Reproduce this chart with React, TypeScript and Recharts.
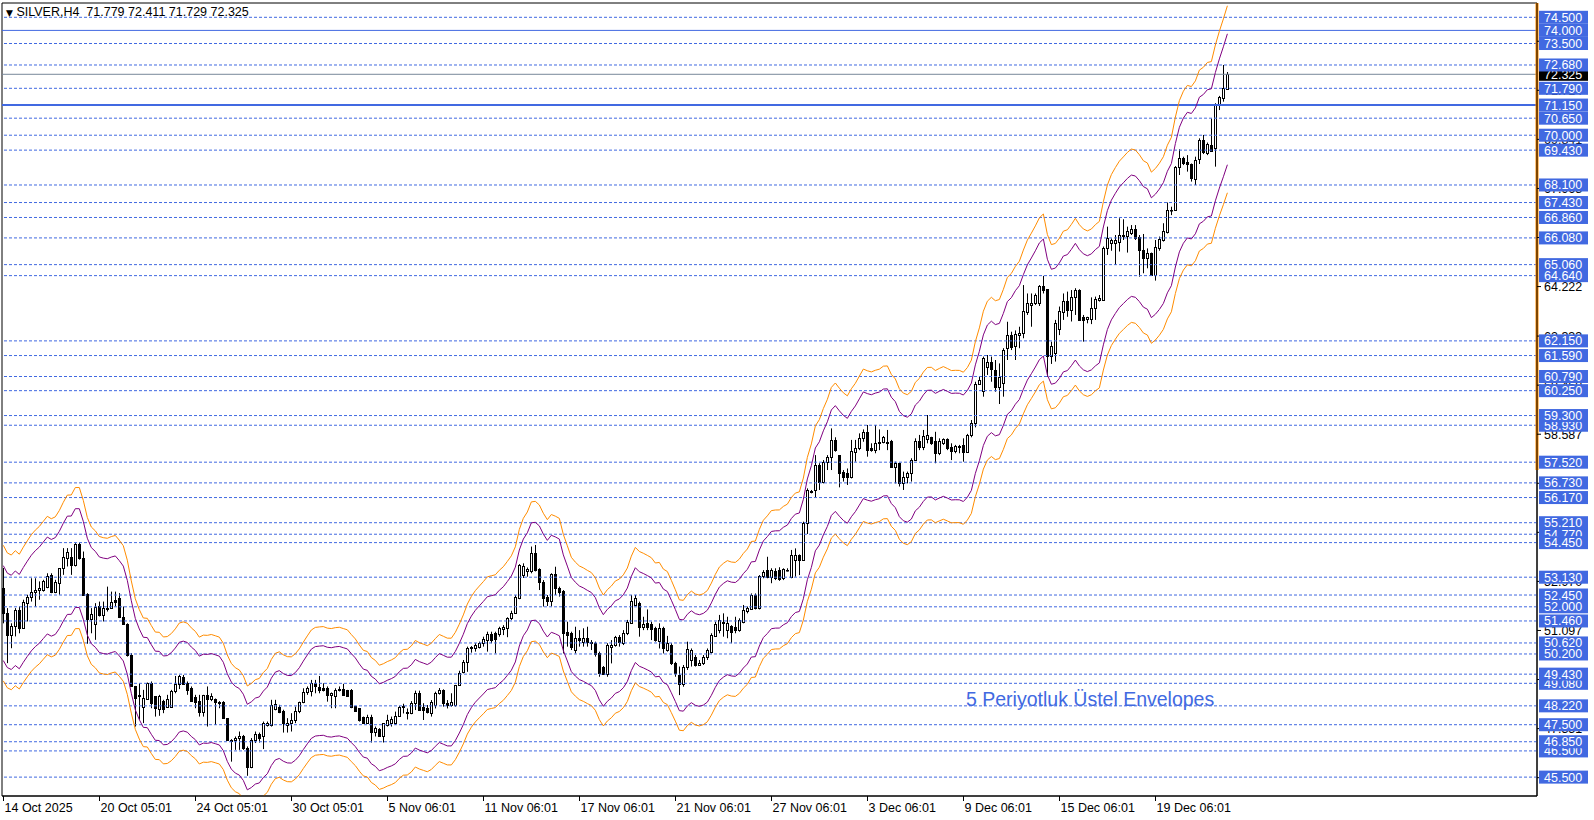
import React from "react"
import { ComposedChart, Bar, Line, XAxis, YAxis, ReferenceLine, ReferenceArea } from "recharts"

// SILVER H4 candles, bar 0 = 14 Oct 2025
const opens = [
  52.71, 51.76, 50.93, 51.25, 51.86, 51.18, 52.14, 52.37, 52.58, 52.65,
  52.65, 52.77, 53.22, 52.55, 52.90, 53.48, 53.86, 53.92, 53.60, 54.40,
  53.86, 52.49, 51.53, 51.35, 52.04, 51.67, 51.92, 51.95, 52.27, 52.33,
  51.60, 51.34, 50.17, 48.96, 48.58, 48.19, 48.47, 49.08, 48.58, 48.09,
  48.42, 48.19, 48.19, 48.77, 49.06, 49.34, 49.08, 48.89, 48.55, 48.42,
  48.00, 48.64, 48.47, 48.47, 48.38, 48.35, 47.75, 46.92, 46.92, 46.99,
  47.07, 46.60, 45.90, 46.92, 47.15, 47.05, 47.49, 47.49, 48.09, 48.19,
  48.04, 47.49, 47.58, 47.69, 48.04, 48.35, 48.73, 48.77, 49.11, 48.94,
  48.92, 48.89, 48.63, 48.58, 48.86, 48.86, 48.83, 48.83, 48.22, 48.13,
  47.81, 47.58, 47.81, 47.24, 47.33, 47.05, 47.49, 47.56, 47.56, 47.84,
  48.19, 47.93, 47.93, 48.34, 48.70, 48.19, 48.12, 47.93, 48.25, 48.70,
  48.82, 48.34, 48.25, 48.25, 49.02, 49.52, 49.90, 50.41, 50.41, 50.48,
  50.61, 50.73, 50.96, 50.99, 50.96, 51.14, 51.18, 51.56, 51.78, 52.32,
  53.20, 53.35, 53.35, 54.07, 53.43, 52.96, 52.36, 52.23, 53.25, 52.70,
  52.60, 51.05, 50.99, 50.35, 50.80, 50.67, 50.80, 50.67, 50.61, 50.22,
  49.69, 49.44, 50.48, 50.54, 50.83, 50.63, 50.99, 51.40, 52.07, 52.13,
  51.24, 51.37, 51.34, 51.18, 50.71, 51.20, 50.35, 50.54, 49.87, 49.40,
  49.05, 49.72, 49.97, 50.10, 49.78, 49.84, 50.10, 50.29, 50.88, 51.11,
  51.43, 51.11, 51.27, 51.24, 51.11, 51.43, 51.85, 51.90, 52.45, 51.94,
  53.18, 53.40, 53.15, 53.38, 53.40, 53.09, 53.40, 53.13, 53.79, 53.98,
  53.79, 55.19, 56.40, 56.46, 57.41, 56.78, 57.54, 57.73, 58.37, 57.79,
  57.16, 57.12, 56.97, 57.92, 58.05, 58.43, 58.68, 58.05, 57.98, 58.30,
  58.30, 58.24, 58.34, 57.35, 57.48, 56.74, 56.97, 57.12, 57.60, 58.34,
  58.11, 58.39, 58.47, 58.34, 57.88, 58.26, 58.39, 58.11, 57.96, 58.14,
  58.18, 57.92, 58.56, 59.03, 60.51, 60.25, 61.14, 61.36, 61.04, 60.40,
  60.53, 61.87, 62.37, 61.95, 62.36, 62.44, 63.27, 63.52, 63.61, 63.58,
  64.24, 64.12, 61.57, 61.70, 62.59, 63.27, 63.69, 63.33, 63.81, 64.09,
  63.05, 62.97, 62.97, 63.39, 63.71, 63.71, 65.68, 65.90, 65.87, 65.94,
  66.15, 66.15, 66.25, 66.41, 66.13, 65.62, 65.30, 65.49, 64.66, 65.68,
  66.00, 66.32, 67.14, 67.14, 68.80, 69.12, 68.99, 68.90, 68.32, 69.08,
  69.82, 69.31, 69.63, 69.50, 71.15, 71.42, 71.779,
]
const highs = [
  53.48, 51.95, 51.37, 51.95, 52.01, 52.27, 52.46, 53.09, 53.09, 52.97,
  53.03, 53.28, 53.28, 53.03, 53.48, 54.24, 54.24, 54.24, 54.43, 54.46,
  54.11, 52.52, 51.95, 52.14, 52.20, 52.20, 52.77, 52.58, 52.58, 52.52,
  52.01, 51.37, 50.23, 48.98, 49.08, 48.83, 49.11, 49.15, 48.58, 48.64,
  48.45, 48.64, 48.83, 49.36, 49.40, 49.40, 49.15, 48.96, 48.64, 48.64,
  48.64, 48.96, 48.70, 48.50, 48.40, 48.40, 47.75, 46.95, 47.05, 47.24,
  47.11, 46.67, 46.99, 47.24, 47.20, 47.62, 47.62, 48.45, 48.45, 48.26,
  48.07, 47.75, 47.94, 48.19, 48.38, 48.89, 48.96, 49.21, 49.21, 49.36,
  49.08, 48.96, 48.73, 48.89, 48.96, 49.06, 48.83, 48.86, 48.22, 48.13,
  47.81, 47.88, 47.88, 47.43, 47.37, 47.56, 47.88, 47.81, 48.00, 48.22,
  48.30, 48.12, 48.40, 48.80, 48.80, 48.32, 48.25, 48.44, 48.76, 48.90,
  48.85, 48.44, 48.70, 49.02, 49.56, 49.97, 50.48, 50.50, 50.61, 50.67,
  50.86, 51.05, 51.05, 51.05, 51.24, 51.30, 51.60, 51.85, 52.44, 53.63,
  53.66, 53.50, 54.30, 54.36, 53.47, 53.02, 52.45, 53.28, 53.53, 52.77,
  52.64, 51.43, 51.05, 51.24, 51.11, 51.18, 51.24, 50.73, 50.67, 50.29,
  49.74, 50.61, 50.73, 50.89, 50.92, 51.11, 51.50, 52.45, 52.45, 52.20,
  51.62, 51.90, 51.43, 51.24, 51.37, 51.24, 50.89, 50.61, 49.90, 49.72,
  49.78, 50.67, 50.41, 50.16, 49.97, 50.16, 50.41, 50.99, 51.43, 51.69,
  51.75, 51.62, 51.30, 51.62, 51.56, 52.07, 52.01, 52.51, 52.51, 53.21,
  53.40, 53.91, 53.47, 53.47, 53.51, 53.47, 53.47, 54.17, 54.23, 54.00,
  55.25, 56.52, 56.46, 57.79, 57.48, 57.60, 57.79, 58.81, 58.47, 57.79,
  57.22, 57.28, 58.37, 58.37, 58.62, 58.77, 58.94, 58.24, 58.94, 58.77,
  58.52, 58.75, 58.37, 57.54, 57.50, 57.16, 57.16, 57.67, 58.43, 58.56,
  58.75, 59.32, 58.49, 58.68, 58.43, 58.43, 58.43, 58.24, 58.18, 58.18,
  58.43, 58.60, 59.13, 60.59, 60.78, 61.55, 61.61, 61.55, 61.42, 61.29,
  61.87, 62.88, 62.50, 62.55, 62.69, 64.28, 63.96, 63.96, 63.96, 64.28,
  64.63, 64.12, 62.12, 62.95, 63.46, 63.96, 64.03, 64.09, 64.16, 64.12,
  63.14, 63.07, 63.81, 63.84, 63.90, 65.75, 66.51, 66.06, 66.19, 66.83,
  66.79, 66.51, 66.57, 66.57, 66.19, 66.23, 65.68, 65.52, 66.00, 66.13,
  66.64, 67.43, 67.27, 68.82, 69.46, 69.18, 69.24, 68.92, 69.18, 69.88,
  70.01, 69.72, 70.64, 71.22, 71.50, 72.68, 72.411,
]
const lows = [
  51.37, 49.85, 50.42, 50.87, 50.99, 51.18, 51.44, 52.20, 52.01, 52.27,
  52.58, 52.71, 52.52, 52.52, 52.46, 53.22, 53.54, 53.22, 53.54, 53.80,
  52.46, 50.59, 50.99, 50.74, 51.63, 51.44, 51.82, 51.95, 52.01, 51.57,
  51.31, 50.10, 48.96, 47.43, 47.69, 47.56, 48.45, 48.13, 47.81, 47.84,
  47.94, 48.17, 48.17, 48.70, 48.86, 49.06, 48.64, 48.38, 48.13, 47.81,
  47.81, 47.43, 48.40, 47.49, 48.13, 47.75, 46.92, 46.09, 46.54, 46.54,
  46.54, 45.55, 45.84, 46.80, 46.82, 46.57, 47.43, 47.43, 48.05, 47.94,
  47.20, 47.20, 47.24, 47.56, 47.94, 48.32, 48.64, 48.58, 48.70, 48.70,
  48.77, 48.38, 48.13, 48.13, 48.77, 48.61, 48.58, 48.13, 48.00, 47.62,
  47.56, 47.56, 46.82, 47.05, 47.05, 46.82, 47.43, 47.43, 47.49, 47.81,
  47.93, 47.70, 47.90, 48.06, 48.06, 47.68, 47.93, 47.81, 48.12, 48.65,
  48.19, 48.12, 48.19, 48.19, 48.98, 49.46, 49.52, 50.25, 50.29, 50.41,
  50.48, 50.29, 50.61, 50.22, 50.86, 50.92, 50.84, 51.50, 51.75, 52.29,
  53.10, 53.15, 53.28, 53.35, 52.64, 52.01, 52.03, 52.01, 52.45, 52.39,
  50.22, 50.48, 50.35, 50.22, 50.48, 50.48, 50.48, 50.35, 50.10, 49.33,
  49.40, 49.33, 49.84, 50.48, 50.48, 50.54, 50.92, 51.37, 52.03, 50.86,
  51.11, 51.11, 50.73, 50.67, 50.41, 50.22, 50.29, 49.78, 49.33, 48.63,
  48.95, 49.59, 49.72, 49.72, 49.74, 49.78, 49.97, 50.22, 50.86, 50.99,
  50.86, 50.80, 50.61, 50.99, 51.05, 51.37, 51.75, 51.88, 51.90, 51.90,
  53.09, 53.09, 52.90, 53.02, 52.99, 53.02, 53.35, 53.09, 53.15, 53.21,
  53.79, 54.78, 56.33, 56.18, 56.46, 56.71, 57.22, 57.22, 57.92, 56.56,
  56.78, 56.65, 56.90, 57.54, 57.98, 58.30, 57.73, 57.92, 57.86, 57.98,
  58.24, 57.98, 57.35, 56.71, 56.59, 56.46, 56.71, 56.78, 57.60, 57.98,
  57.98, 58.24, 58.18, 57.48, 57.79, 58.18, 57.98, 57.60, 57.86, 57.86,
  57.54, 57.88, 58.47, 58.85, 60.47, 60.02, 60.85, 60.59, 60.21, 59.74,
  60.02, 61.42, 61.80, 61.42, 61.87, 62.25, 63.14, 62.69, 63.52, 63.48,
  63.96, 60.78, 61.27, 61.36, 62.37, 62.95, 63.07, 62.89, 63.14, 62.95,
  62.12, 62.82, 62.79, 62.95, 63.65, 63.71, 65.43, 65.59, 65.05, 65.56,
  66.00, 65.52, 66.19, 66.00, 64.60, 64.73, 64.92, 64.63, 64.45, 65.59,
  65.94, 66.25, 66.95, 67.12, 68.48, 68.86, 68.61, 68.23, 68.10, 68.90,
  69.28, 69.24, 69.37, 68.80, 70.96, 71.28, 71.729,
]
const closes = [
  51.76, 50.93, 51.25, 51.88, 51.18, 52.20, 52.39, 52.58, 52.65, 52.71,
  53.00, 53.18, 52.55, 52.93, 53.48, 53.92, 54.11, 53.60, 54.40, 53.86,
  52.46, 51.53, 51.73, 52.01, 51.67, 51.95, 51.97, 52.20, 52.20, 51.60,
  51.34, 50.17, 48.96, 48.51, 48.64, 48.51, 49.08, 48.32, 48.13, 48.58,
  48.09, 48.47, 48.77, 49.06, 49.36, 49.06, 48.83, 48.42, 48.38, 48.00,
  48.64, 48.47, 48.58, 48.38, 48.32, 47.75, 46.92, 46.86, 46.99, 47.07,
  46.60, 45.90, 46.92, 47.15, 47.01, 47.56, 47.58, 48.26, 48.28, 48.00,
  47.56, 47.58, 47.69, 48.04, 48.35, 48.73, 48.92, 49.11, 48.96, 48.83,
  48.83, 48.64, 48.70, 48.83, 48.81, 48.64, 48.60, 48.17, 48.04, 47.69,
  47.56, 47.81, 47.24, 47.37, 47.05, 47.56, 47.69, 47.71, 47.84, 48.19,
  48.22, 48.00, 48.34, 48.70, 48.06, 48.06, 48.00, 48.38, 48.70, 48.82,
  48.32, 48.25, 48.38, 49.02, 49.49, 49.90, 50.41, 50.45, 50.54, 50.61,
  50.76, 50.96, 50.73, 50.76, 51.18, 51.24, 51.56, 51.78, 52.36, 53.60,
  53.55, 53.43, 54.07, 53.40, 52.96, 52.32, 52.23, 53.25, 52.70, 52.58,
  50.99, 50.92, 50.48, 50.80, 50.73, 50.80, 50.67, 50.61, 50.20, 49.46,
  49.44, 50.54, 50.54, 50.83, 50.67, 50.99, 51.43, 52.23, 52.32, 51.24,
  51.34, 51.24, 51.14, 50.73, 51.18, 50.41, 50.63, 49.84, 49.46, 49.05,
  49.72, 50.38, 50.35, 49.78, 49.87, 50.10, 50.35, 50.92, 51.34, 51.50,
  51.37, 51.40, 51.05, 51.11, 51.50, 51.88, 51.94, 52.45, 51.94, 53.18,
  53.34, 53.15, 53.40, 53.09, 53.05, 53.43, 53.42, 53.98, 53.98, 53.79,
  55.21, 56.46, 56.42, 57.41, 56.78, 57.54, 57.73, 58.37, 57.98, 57.09,
  56.97, 56.97, 57.96, 58.05, 58.43, 58.68, 57.98, 57.98, 58.24, 58.24,
  58.49, 58.30, 57.35, 57.48, 56.74, 56.97, 57.12, 57.60, 58.34, 58.11,
  58.52, 58.56, 58.24, 57.88, 58.34, 58.39, 58.05, 57.96, 58.14, 58.11,
  57.92, 58.56, 59.03, 60.51, 60.66, 61.48, 61.36, 61.06, 60.40, 60.78,
  61.80, 62.37, 61.93, 62.41, 62.46, 63.30, 63.58, 63.61, 63.90, 64.24,
  64.09, 61.57, 61.95, 62.82, 63.30, 63.69, 63.33, 63.81, 64.09, 62.95,
  62.95, 63.05, 63.39, 63.73, 63.77, 65.68, 66.06, 66.00, 66.00, 66.19,
  66.19, 66.36, 66.41, 66.06, 65.62, 65.30, 65.49, 64.66, 65.72, 66.03,
  66.36, 67.14, 67.16, 68.80, 69.12, 68.95, 68.90, 68.35, 69.05, 69.82,
  69.34, 69.66, 69.41, 71.15, 71.45, 71.79, 72.325,
]

const dateTicks = [0, 24, 48, 72, 96, 120, 144, 168, 192, 216, 240, 264, 288]
const dateLabels = [
  "14 Oct 2025", "20 Oct 05:01", "24 Oct 05:01", "30 Oct 05:01", "5 Nov 06:01",
  "11 Nov 06:01", "17 Nov 06:01", "21 Nov 06:01", "27 Nov 06:01", "3 Dec 06:01",
  "9 Dec 06:01", "15 Dec 06:01", "19 Dec 06:01",
]

// horizontal levels drawn on the chart
const levels = [
  74.5, 74.0, 73.5, 72.68, 71.79, 71.15, 70.65, 70.0, 69.43, 68.1, 67.43, 66.86, 66.08,
  65.06, 64.64, 62.15, 61.59, 60.79, 60.25, 59.3, 58.93, 57.52, 56.73, 56.17, 55.21,
  54.77, 54.45, 53.13, 52.45, 52.0, 51.46, 50.62, 50.2, 49.43, 49.08, 48.22, 47.5,
  46.85, 46.5, 45.5,
]
const solidLevels = [74.0, 71.15]
const hiddenLabels = [54.77, 58.93, 49.08, 46.5, 65.06]
const scaleTicks = [
  45.478, 47.351, 49.224, 51.097, 52.97, 54.843, 56.715, 58.587, 60.46, 62.333,
  64.222, 66.095, 67.968, 69.841, 71.714, 73.587,
]
const lastPrice = 72.325

const envPeriod = 5
const innerDev = 0.035
const outerDev = 0.05

const Y_DOMAIN: [number, number] = [44.779, 75.046]
const X_DOMAIN: [number, number] = [-0.325, 383.4]
const BLUE = "#4169e1"
const FONT = "'Liberation Sans', Arial, sans-serif"

const ema: number[] = []
closes.forEach((c, i) => {
  const k = 2 / (envPeriod + 1)
  ema.push(i === 0 ? c : ema[i - 1] + k * (c - ema[i - 1]))
})

const data = closes.map((c, i) => ({
  i,
  o: opens[i],
  h: highs[i],
  l: lows[i],
  c,
  range: [lows[i], highs[i]],
  outUp: ema[i] * (1 + outerDev),
  inUp: ema[i] * (1 + innerDev),
  inLo: ema[i] * (1 - innerDev),
  outLo: ema[i] * (1 - outerDev),
}))

const Candle = (props: any) => {
  const { x, y, width, height, payload } = props
  if (!payload) return null
  const { o, h, l, c } = payload
  const cx = Math.floor(x + width / 2) + 0.5
  const span = h - l
  const yOf = (v: number) => (span > 0 ? y + ((h - v) / span) * height : y)
  const top = Math.round(yOf(Math.max(o, c))) + 0.5
  const bot = Math.round(yOf(Math.min(o, c))) + 0.5
  const up = c >= o
  return (
    <g>
      <line x1={cx} x2={cx} y1={y} y2={y + height} stroke="#000" strokeWidth={1} />
      <rect
        x={cx - 1}
        y={top}
        width={2}
        height={Math.max(bot - top, 0.5)}
        fill={up ? "#fff" : "#000"}
        stroke="#000"
        strokeWidth={1}
      />
    </g>
  )
}

const DateTick = (props: any) => {
  const { x, payload } = props
  const idx = dateTicks.indexOf(payload.value)
  const tx = Math.round(x) + 0.5
  return (
    <g>
      <line x1={tx} x2={tx} y1={796} y2={801} stroke="#000" />
      <text x={tx + 1} y={812} fontSize={12.5} fontFamily={FONT} fill="#000">
        {dateLabels[idx]}
      </text>
    </g>
  )
}

const PriceTick = (props: any) => {
  const { y, payload } = props
  const v = payload.value as number
  const label = v.toFixed(3)
  if (v === lastPrice || levels.includes(v)) {
    return (
      <g>
        <rect x={1539} y={y - 6.5} width={49} height={13} fill={v === lastPrice ? "#000" : BLUE} />
        <text x={1544} y={y + 4.5} fontSize={12.5} fontFamily={FONT} fill="#fff">
          {label}
        </text>
      </g>
    )
  }
  return (
    <g>
      <line x1={1537} x2={1541} y1={y} y2={y} stroke="#000" />
      <text x={1544} y={y + 4.5} fontSize={12.5} fontFamily={FONT} fill="#000">
        {label}
      </text>
    </g>
  )
}

const priceTickOrder = [
  ...scaleTicks,
  lastPrice,
  ...hiddenLabels,
  ...levels.filter((v) => !hiddenLabels.includes(v)),
]

export default function App() {
  return (
    <div style={{ position: "absolute", left: 0, top: 0, width: 1594, height: 820, background: "#fff" }}>
      <ComposedChart width={1594} height={820} data={data} margin={{ top: 3, right: 0, bottom: 0, left: 2 }}>
        <XAxis
          dataKey="i"
          type="number"
          domain={X_DOMAIN}
          allowDataOverflow
          ticks={dateTicks}
          interval={0}
          tick={<DateTick />}
          tickLine={false}
          axisLine={{ stroke: "#000" }}
          height={24}
        />
        <YAxis
          orientation="right"
          type="number"
          domain={Y_DOMAIN}
          allowDataOverflow
          ticks={priceTickOrder}
          interval={0}
          tick={<PriceTick />}
          tickLine={false}
          axisLine={{ stroke: "#000" }}
          width={57}
        />
        <ReferenceArea x1={X_DOMAIN[0]} x2={X_DOMAIN[1]} y1={Y_DOMAIN[0]} y2={Y_DOMAIN[1]} fill="none" stroke="#000" />
        {levels.map((v) => (
          <ReferenceLine
            key={v}
            y={v}
            stroke={BLUE}
            strokeWidth={v === 71.15 ? 2 : 1}
            strokeDasharray={solidLevels.includes(v) ? undefined : "3 2"}
          />
        ))}
        <ReferenceLine y={lastPrice} stroke="#778899" />
        <Line dataKey="outUp" stroke="#ff8c00" strokeWidth={1} dot={false} activeDot={false} isAnimationActive={false} />
        <Line dataKey="inUp" stroke="#800080" strokeWidth={1} dot={false} activeDot={false} isAnimationActive={false} />
        <Line dataKey="inLo" stroke="#800080" strokeWidth={1} dot={false} activeDot={false} isAnimationActive={false} />
        <Line dataKey="outLo" stroke="#ff8c00" strokeWidth={1} dot={false} activeDot={false} isAnimationActive={false} />
        <Bar dataKey="range" barSize={4} shape={(p: any) => <Candle {...p} />} isAnimationActive={false} />
        <ReferenceLine
          segment={[
            { x: X_DOMAIN[1], y: Y_DOMAIN[1] },
            { x: X_DOMAIN[1], y: 57.22 },
          ]}
          stroke="#ff8c00"
          strokeWidth={3}
          ifOverflow="visible"
        />
      </ComposedChart>
      <div
        style={{
          position: "absolute",
          left: 6,
          top: 6,
          fontFamily: FONT,
          fontSize: 12.5,
          lineHeight: "13px",
          whiteSpace: "pre",
          color: "#000",
        }}
      >
        <span style={{ fontSize: 9, fontFamily: "'DejaVu Sans', sans-serif" }}>▼</span>
        {" SILVER,H4  71.779 72.411 71.729 72.325"}
      </div>
      <div
        style={{
          position: "absolute",
          left: 966,
          top: 689,
          fontFamily: FONT,
          fontSize: 19.5,
          lineHeight: "20px",
          whiteSpace: "pre",
          color: BLUE,
        }}
      >
        5 Periyotluk Üstel Envelopes
      </div>
    </div>
  )
}
